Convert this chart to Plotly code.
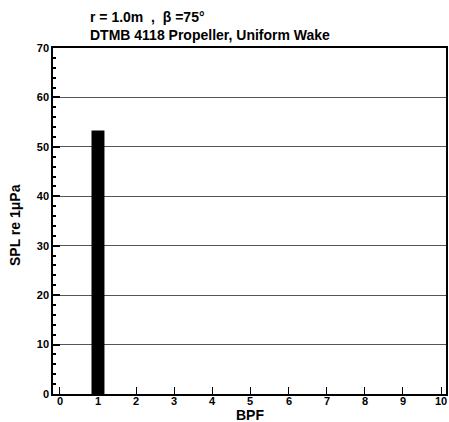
import plotly.graph_objects as go

bpf = [1]
spl = [53.3]
x_ticks = list(range(0, 11))
y_ticks = list(range(0, 71, 10))

fig = go.Figure()
fig.add_trace(go.Bar(x=bpf, y=spl, width=0.34, marker=dict(color="black", line=dict(width=0))))

font = "Liberation Sans, Arial, sans-serif"
W, H = 449, 422
L, R, T, B = 53, 3, 48, 28
PW, PH = W - L - R, H - T - B
fig.update_layout(
    width=W, height=H,
    margin=dict(l=L, r=R, t=T, b=B, autoexpand=False),
    paper_bgcolor="white", plot_bgcolor="white",
    showlegend=False,
    font=dict(family=font, color="black", size=11),
)
fig.add_annotation(
    text="<b>r = 1.0m  ,  β =75°<br>DTMB 4118 Propeller, Uniform Wake</b>",
    xref="paper", yref="paper", x=(88 - L) / PW, y=1 + (T - 7) / PH,
    xanchor="left", yanchor="top", align="left", showarrow=False,
    font=dict(family=font, size=14, color="black"),
)
fig.add_annotation(
    text="<b>BPF</b>", xref="paper", yref="paper",
    x=(250 - L) / PW, y=-(415 - (H - B)) / PH,
    xanchor="center", yanchor="middle", showarrow=False,
    font=dict(family=font, size=14, color="black"),
)
fig.add_annotation(
    text="<b>SPL re 1μPa</b>", xref="paper", yref="paper", textangle=-90,
    x=-(L - 15) / PW, y=(H - B - 225) / PH,
    xanchor="center", yanchor="middle", showarrow=False,
    font=dict(family=font, size=14, color="black"),
)
for v in x_ticks:
    fig.add_annotation(
        text=f"<b>{v}</b>", xref="x", yref="paper", x=v, y=-(401 - (H - B)) / PH,
        xanchor="center", yanchor="middle", showarrow=False,
        font=dict(family=font, size=11, color="black"),
    )
fig.update_xaxes(
    range=[-0.18, 10.13], tickvals=x_ticks, showticklabels=False,
    ticks="inside", ticklen=7, tickcolor="black", tickwidth=1,
    showline=True, linecolor="black", linewidth=1.5, mirror=True,
    showgrid=False, zeroline=False, automargin=False,
)
fig.update_yaxes(
    range=[0, 70], tickvals=y_ticks, ticktext=[f"<b>{v}</b>" for v in y_ticks],
    ticks="inside", ticklen=7, tickcolor="black", tickwidth=1.5,
    minor=dict(dtick=2, ticks="inside", ticklen=3, tickcolor="black", showgrid=False),
    showline=True, linecolor="black", linewidth=1.5, mirror=True,
    showgrid=True, gridcolor="#555555", gridwidth=0.7, zeroline=False, automargin=False,
    ticklabeloverflow="allow",
    tickfont=dict(size=11),
)
fig.write_html(
    "out.html",
    config={"displayModeBar": False},
    post_script="document.body.style.margin='0';document.body.style.overflow='hidden';",
)
